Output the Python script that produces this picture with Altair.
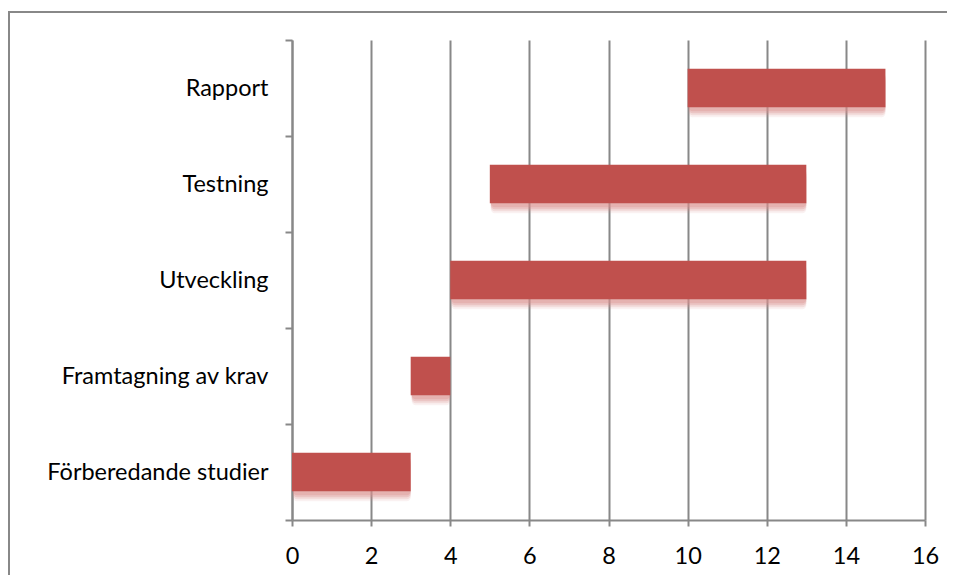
import altair as alt
import pandas as pd

tasks = ["Rapport", "Testning", "Utveckling", "Framtagning av krav", "Förberedande studier"]
starts = [10, 5, 4, 3, 0]
ends = [15, 13, 13, 4, 3]
x_ticks = [0, 2, 4, 6, 8, 10, 12, 14, 16]

df = pd.DataFrame({"task": tasks, "start": starts, "end": ends})

FONT = "Lato"
GRID = "#888888"
BAR = "#C0504D"

W, H = 633, 480
PAD = {"left": 284, "top": 32, "right": 22, "bottom": 55}

yenc = alt.Y(
    "task:N",
    sort=tasks,
    scale=alt.Scale(paddingInner=0, paddingOuter=0),
    axis=alt.Axis(
        title=None,
        tickBand="extent",
        tickSize=7,
        tickColor=GRID,
        tickWidth=2,
        domainColor=GRID,
        domainWidth=2,
        labelFont=FONT,
        labelFontSize=23.5,
        labelColor="#000000",
        labelPadding=17,
        labelLimit=400,
        grid=False,
    ),
)

xenc = alt.X(
    "start:Q",
    scale=alt.Scale(domain=[0, 16], nice=False),
    axis=alt.Axis(
        title=None,
        values=x_ticks,
        grid=True,
        gridColor=GRID,
        gridWidth=2,
        tickSize=6,
        tickColor=GRID,
        tickWidth=2,
        domainColor=GRID,
        domainWidth=2,
        labelFont=FONT,
        labelFontSize=23.5,
        labelColor="#000000",
        labelPadding=18,
        labelFlush=False,
    ),
)

base = alt.Chart(df)

shadows = [
    base.mark_bar(height={"band": 0.4}, color="#d98f8d", opacity=op, yOffset=off, xOffset=1, cornerRadius=4)
    .encode(x=xenc, x2="end:Q", y=yenc)
    for op, off in [(0.12, 10), (0.2, 8), (0.3, 6), (0.35, 4)]
]

bars = base.mark_bar(height={"band": 0.4}, color=BAR).encode(x=xenc, x2="end:Q", y=yenc)

frame_top = alt.Chart(df.head(1)).mark_rule(color=GRID, strokeWidth=2).encode(
    x=alt.value(-PAD["left"]), x2=alt.value(W + PAD["right"] + 10), y=alt.value(-28)
)
frame_left = alt.Chart(df.head(1)).mark_rule(color=GRID, strokeWidth=2).encode(
    x=alt.value(-PAD["left"] + 1), y=alt.value(-28), y2=alt.value(H + PAD["bottom"] + 10)
)

chart = (
    alt.layer(*shadows, bars, frame_top, frame_left)
    .properties(
        width=W,
        height=H,
        autosize=alt.AutoSizeParams(type="none"),
        padding=PAD,
        background="white",
    )
    .configure_view(stroke=None)
)

chart.save("out.html", embed_options={"renderer": "svg", "actions": False})
